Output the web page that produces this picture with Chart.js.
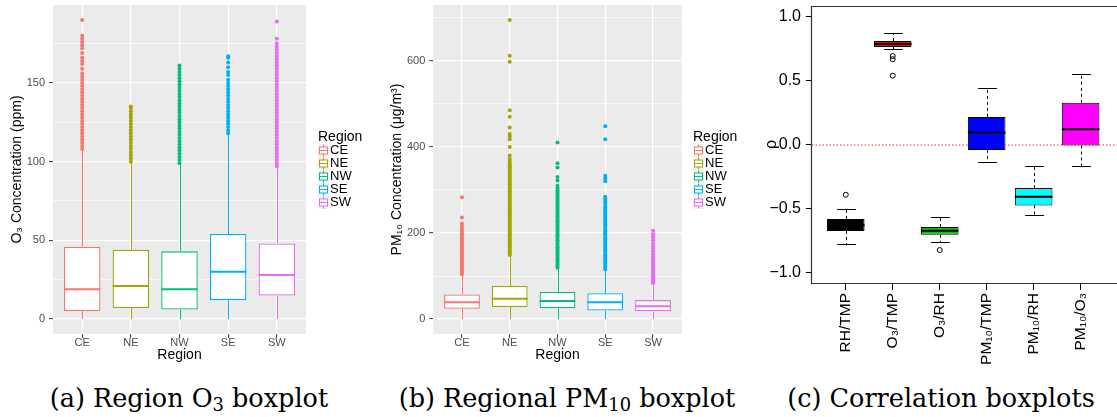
<!DOCTYPE html>
<html lang="en">
<head>
<meta charset="utf-8">
<title>Regional O3 / PM10 boxplots and correlation boxplots</title>
<script src="https://cdn.jsdelivr.net/npm/chart.js@4.4.1/dist/chart.umd.min.js"></script>
<style>
  html, body { margin: 0; padding: 0; background: #fff; }
  body { position: relative; width: 1117px; height: 417px; overflow: hidden; }
  canvas { position: absolute; top: 0; }
  #o3-chart { left: 0; }
  #pm-chart { left: 370px; }
  #cor-chart { left: 740px; }
  .caption {
    position: absolute; top: 383px;
    font-family: "DejaVu Serif", "Liberation Serif", serif;
    font-size: 25.5px; line-height: 30px; color: #000;
    white-space: nowrap; transform: translateX(-50%);
  }
  .caption sub { font-size: 0.7em; vertical-align: -0.25em; line-height: 0; }
</style>
</head>
<body>
<canvas id="o3-chart" width="370" height="365"></canvas>
<canvas id="pm-chart" width="370" height="365"></canvas>
<canvas id="cor-chart" width="377" height="380"></canvas>
<div class="caption" style="left:189px">(a) Region O<sub>3</sub> boxplot</div>
<div class="caption" style="left:567px">(b) Regional PM<sub>10</sub> boxplot</div>
<div class="caption" style="left:941px">(c) Correlation boxplots</div>
<script>
// ---- (a) regional O3 ----
var regions = ['CE', 'NE', 'NW', 'SE', 'SW'];
var o3Low = [0, 0, 0, 0, 0];
var o3Q1 = [5, 7, 6, 12, 15];
var o3Median = [19, 21, 19, 30, 28];
var o3Q3 = [46, 44, 43, 54, 48];
var o3High = [107, 99, 98, 117, 97];
var o3Outliers = [
  [108, 110, 112, 114, 116, 118, 120, 122, 124, 126, 128, 130, 132, 134, 136, 138, 140, 142, 144, 146, 148, 150, 152, 154, 156, 159, 162, 164, 166, 169, 172, 174, 176, 178, 180, 190],
  [100, 102, 104, 106, 108, 110, 112, 114, 116, 118, 120, 122, 124, 126, 128, 130, 132, 134, 135],
  [99, 101, 103, 105, 107, 109, 111, 113, 115, 117, 119, 121, 123, 125, 127, 129, 131, 133, 135, 137, 139, 141, 143, 145, 147, 149, 151, 153, 155, 157, 159, 161],
  [118, 120, 122, 124, 126, 128, 130, 132, 134, 136, 138, 140, 142, 144, 146, 148, 150, 152, 155, 157, 160, 163, 166, 167],
  [97, 99, 101, 103, 105, 107, 109, 111, 113, 115, 117, 119, 121, 123, 125, 127, 129, 131, 133, 135, 137, 139, 141, 143, 145, 147, 149, 151, 153, 155, 157, 159, 161, 163, 165, 167, 169, 171, 173, 175, 178, 189]
];
var o3MajorTicks = [0, 50, 100, 150];
var o3MinorTicks = [25, 75, 125, 175];

// ---- (b) regional PM10 ----
var pmLow = [0, 0, 0, 0, 0];
var pmQ1 = [24, 28, 25, 20, 18];
var pmMedian = [39, 47, 42, 39, 30];
var pmQ3 = [57, 77, 63, 60, 44];
var pmHigh = [103, 148, 118, 115, 82];
var pmOutliers = [
  [104, 108, 112, 116, 120, 124, 128, 132, 136, 140, 144, 148, 152, 156, 160, 164, 168, 172, 176, 180, 184, 188, 192, 196, 200, 205, 210, 216, 222, 236, 283],
  [149, 153, 157, 161, 165, 169, 173, 177, 181, 185, 189, 193, 197, 201, 205, 209, 213, 217, 221, 225, 229, 233, 237, 241, 245, 249, 253, 257, 261, 265, 269, 273, 277, 281, 285, 289, 293, 297, 301, 305, 309, 313, 317, 321, 325, 329, 333, 337, 341, 345, 349, 353, 357, 361, 366, 372, 380, 400, 418, 425, 430, 445, 470, 485, 598, 612, 695],
  [119, 123, 127, 131, 135, 139, 143, 147, 151, 155, 159, 163, 167, 171, 175, 179, 183, 187, 191, 195, 199, 203, 207, 211, 215, 219, 223, 227, 231, 235, 239, 243, 247, 251, 255, 259, 263, 267, 271, 275, 279, 283, 287, 291, 295, 299, 304, 310, 322, 330, 352, 362, 410],
  [116, 120, 124, 128, 132, 136, 140, 144, 148, 152, 156, 160, 164, 168, 172, 176, 180, 184, 188, 192, 196, 200, 204, 208, 212, 216, 220, 224, 228, 232, 236, 240, 244, 248, 252, 256, 260, 265, 270, 275, 280, 284, 320, 327, 333, 418, 448],
  [83, 87, 91, 95, 99, 103, 107, 111, 115, 119, 123, 127, 131, 135, 140, 145, 150, 157, 163, 168, 175, 183, 190, 197, 205]
];
var pmMajorTicks = [0, 200, 400, 600];
var pmMinorTicks = [100, 300, 500, 700];

// ---- (c) correlation boxplots ----
var pairs = ['RH/TMP', 'O\u2083/TMP', 'O\u2083/RH', 'PM\u2081\u2080/TMP', 'PM\u2081\u2080/RH', 'PM\u2081\u2080/O\u2083'];
var corLow = [-0.779, 0.745, -0.761, -0.140, -0.553, -0.171];
var corQ1 = [-0.675, 0.761, -0.704, -0.042, -0.475, -0.008];
var corMedian = [-0.630, 0.784, -0.672, 0.093, -0.408, 0.119];
var corQ3 = [-0.580, 0.807, -0.644, 0.215, -0.340, 0.325];
var corHigh = [-0.504, 0.872, -0.563, 0.444, -0.164, 0.553];
var corOutliers = [[-0.392], [0.690, 0.665, 0.537], [-0.823], [], [], []];
var corTicks = [-1, -0.5, 0, 0.5, 1];
var corTickLabels = ['\u22121.0', '\u22120.5', '0.0', '0.5', '1.0'];

(function () {
  'use strict';

  var SANS = '"Liberation Sans", Arial, Helvetica, sans-serif';
  var regionColors = ['#F8766D', '#A3A500', '#00BF7D', '#00B0F6', '#E76BF3'];
  var pairColors = ['#000000', '#FF0000', '#00CD00', '#0000FF', '#00FFFF', '#FF00FF'];

  // pin an axis to a fixed thickness so the plot panels line up
  function fixSize(size) {
    return function (scale) {
      if (scale.isHorizontal()) scale.height = size; else scale.width = size;
      scale.paddingTop = 0; scale.paddingBottom = 0;
      scale.paddingLeft = 0; scale.paddingRight = 0;
    };
  }

  function setTicks(values) {
    return function (scale) {
      scale.ticks = values.map(function (v) { return { value: v }; });
    };
  }

  // =========================================================================
  // ggplot-style regional boxplots (a) and (b)
  // =========================================================================

  function regionPlugin(s) {
    return {
      id: 'regionBoxes_' + s.id,
      beforeDraw: function (chart) {
        var a = chart.chartArea, ctx = chart.ctx;
        ctx.save();
        ctx.fillStyle = '#EBEBEB';
        ctx.fillRect(a.left, a.top, a.right - a.left, a.bottom - a.top);
        ctx.restore();
      },
      beforeDatasetsDraw: function (chart) {
        var ctx = chart.ctx, y = chart.scales.y;
        var bars = chart.getDatasetMeta(0).data;
        ctx.save();
        ctx.lineWidth = 1;
        bars.forEach(function (bar, i) {
          var cx = Math.round(bar.x) + 0.5;
          ctx.strokeStyle = regionColors[i];
          ctx.beginPath();
          ctx.moveTo(cx, y.getPixelForValue(s.q3[i]));
          ctx.lineTo(cx, y.getPixelForValue(s.high[i]));
          ctx.moveTo(cx, y.getPixelForValue(s.q1[i]));
          ctx.lineTo(cx, y.getPixelForValue(s.low[i]));
          ctx.stroke();
        });
        ctx.restore();
      },
      afterDatasetsDraw: function (chart) {
        var ctx = chart.ctx, y = chart.scales.y;
        var bars = chart.getDatasetMeta(0).data;
        ctx.save();
        ctx.lineWidth = 2;
        bars.forEach(function (bar, i) {
          var py = y.getPixelForValue(s.med[i]);
          ctx.strokeStyle = regionColors[i];
          ctx.beginPath();
          ctx.moveTo(bar.x - bar.width / 2, py);
          ctx.lineTo(bar.x + bar.width / 2, py);
          ctx.stroke();
        });
        ctx.restore();
      },
      afterDraw: function (chart) {
        // legend: "Region" with small boxplot keys
        var ctx = chart.ctx, lx = s.legendX;
        ctx.save();
        ctx.textAlign = 'left';
        ctx.textBaseline = 'middle';
        ctx.fillStyle = '#000';
        ctx.font = '14px ' + SANS;
        ctx.fillText('Region', lx, 137);
        ctx.font = '13px ' + SANS;
        regions.forEach(function (r, i) {
          var cy = Math.round(150 + i * 13) + 0.5;
          var kx = lx + 0.5;
          ctx.fillStyle = '#F2F2F2';
          ctx.fillRect(kx - 0.5, cy - 6.5, 11, 13);
          ctx.strokeStyle = regionColors[i];
          ctx.lineWidth = 1;
          ctx.beginPath();
          ctx.moveTo(kx + 5, cy - 6); ctx.lineTo(kx + 5, cy - 3.5);
          ctx.moveTo(kx + 5, cy + 3.5); ctx.lineTo(kx + 5, cy + 6);
          ctx.stroke();
          ctx.fillStyle = '#FFFFFF';
          ctx.fillRect(kx + 1, cy - 3.5, 8, 7);
          ctx.strokeRect(kx + 1, cy - 3.5, 8, 7);
          ctx.beginPath();
          ctx.moveTo(kx + 1, cy); ctx.lineTo(kx + 9, cy);
          ctx.stroke();
          ctx.fillStyle = '#000';
          ctx.fillText(r, lx + 12, cy);
        });
        ctx.restore();
      }
    };
  }

  function makeRegionChart(s) {
    var ticks = s.major.concat(s.minor).sort(function (a, b) { return a - b; });
    function isMajor(c) { return c.tick && s.major.indexOf(c.tick.value) !== -1; }

    var datasets = [{
      type: 'bar',
      data: regions.map(function (r, i) { return { x: i + 1, y: [s.q1[i], s.q3[i]] }; }),
      backgroundColor: '#FFFFFF',
      borderColor: regionColors,
      borderWidth: 1.3,
      borderSkipped: false,
      barPercentage: 0.75,
      categoryPercentage: 1,
      order: 2
    }];
    regions.forEach(function (r, i) {
      datasets.push({
        type: 'scatter',
        data: s.outliers[i].map(function (v) { return { x: i + 1, y: v }; }),
        pointRadius: 2,
        pointHoverRadius: 2,
        pointBorderWidth: 0,
        pointBackgroundColor: regionColors[i],
        order: 1
      });
    });

    return new Chart(document.getElementById(s.id), {
      type: 'bar',
      data: { datasets: datasets },
      options: {
        responsive: false,
        animation: false,
        devicePixelRatio: 1,
        events: [],
        layout: { padding: { top: 5, right: s.padRight, bottom: 0, left: 0 } },
        plugins: { legend: { display: false }, tooltip: { enabled: false } },
        scales: {
          x: {
            type: 'linear', min: 0.4, max: 5.6, offset: false,
            afterBuildTicks: setTicks(regions.map(function (r, i) { return i + 1; })),
            afterFit: fixSize(31),
            ticks: {
              autoSkip: false, maxRotation: 0, padding: -1, color: '#4D4D4D',
              font: { family: SANS, size: 11, lineHeight: 1 },
              callback: function (v) { return regions[Math.round(v) - 1]; }
            },
            grid: { offset: false, color: '#FFFFFF', lineWidth: 1.2, tickLength: 4, tickWidth: 1, tickColor: '#333333' },
            border: { display: false },
            title: { display: true, text: 'Region', color: '#000', font: { family: SANS, size: 14 }, padding: { top: 0, bottom: 1 } }
          },
          y: {
            type: 'linear', min: s.yMin, max: s.yMax,
            afterBuildTicks: setTicks(ticks),
            afterFit: fixSize(s.axisWidth),
            ticks: {
              autoSkip: false, padding: 4, color: '#4D4D4D',
              font: { family: SANS, size: 11 },
              callback: function (v) { return s.major.indexOf(v) !== -1 ? String(v) : ''; }
            },
            grid: {
              color: '#FFFFFF',
              lineWidth: function (c) { return isMajor(c) ? 1.2 : 0.6; },
              tickLength: 4, tickWidth: 1,
              tickColor: function (c) { return isMajor(c) ? '#333333' : 'rgba(0,0,0,0)'; }
            },
            border: { display: false },
            title: { display: true, text: s.yTitle, color: '#000', font: { family: SANS, size: 14 }, padding: { top: s.titlePad, bottom: 0 } }
          }
        }
      },
      plugins: [regionPlugin(s)]
    });
  }

  // =========================================================================
  // base-R style correlation boxplots (c)
  // =========================================================================

  var corPlugin = {
    id: 'corBoxes',
    beforeDatasetsDraw: function (chart) {
      var ctx = chart.ctx, a = chart.chartArea, y = chart.scales.y;
      var bars = chart.getDatasetMeta(0).data;
      ctx.save();
      // dotted reference line at rho = 0
      var y0 = Math.round(y.getPixelForValue(0));
      ctx.strokeStyle = '#FF3030';
      ctx.lineWidth = 1.2;
      ctx.setLineDash([1.5, 2]);
      ctx.beginPath();
      ctx.moveTo(Math.round(a.left) + 1, y0); ctx.lineTo(chart.width, y0);
      ctx.stroke();
      // whiskers + staples
      ctx.strokeStyle = '#000';
      ctx.lineWidth = 1;
      bars.forEach(function (bar, i) {
        var cx = Math.round(bar.x) + 0.5;
        var half = bar.width / 4;
        var yHi = Math.round(y.getPixelForValue(corHigh[i])) + 0.5;
        var yLo = Math.round(y.getPixelForValue(corLow[i])) + 0.5;
        ctx.setLineDash([3, 3]);
        ctx.beginPath();
        ctx.moveTo(cx, y.getPixelForValue(corQ3[i])); ctx.lineTo(cx, yHi);
        ctx.moveTo(cx, y.getPixelForValue(corQ1[i])); ctx.lineTo(cx, yLo);
        ctx.stroke();
        ctx.setLineDash([]);
        ctx.beginPath();
        ctx.moveTo(cx - half, yHi); ctx.lineTo(cx + half, yHi);
        ctx.moveTo(cx - half, yLo); ctx.lineTo(cx + half, yLo);
        ctx.stroke();
      });
      ctx.restore();
    },
    afterDatasetsDraw: function (chart) {
      var ctx = chart.ctx, a = chart.chartArea, y = chart.scales.y;
      var bars = chart.getDatasetMeta(0).data;
      ctx.save();
      ctx.strokeStyle = '#000';
      ctx.lineWidth = 2;
      bars.forEach(function (bar, i) {
        var py = y.getPixelForValue(corMedian[i]);
        ctx.beginPath();
        ctx.moveTo(bar.x - bar.width / 2, py); ctx.lineTo(bar.x + bar.width / 2, py);
        ctx.stroke();
      });
      // plot frame (right side falls just outside the figure)
      ctx.strokeStyle = '#333';
      ctx.lineWidth = 1.2;
      var l = Math.round(a.left) + 0.5, t = Math.round(a.top) + 0.5, b = Math.round(a.bottom) + 0.5;
      ctx.beginPath();
      ctx.moveTo(chart.width, t); ctx.lineTo(l, t); ctx.lineTo(l, b); ctx.lineTo(chart.width, b);
      ctx.stroke();
      ctx.restore();
    }
  };

  function makeCorrelationChart() {
    var outlierPoints = [];
    corOutliers.forEach(function (list, i) {
      list.forEach(function (v) { outlierPoints.push({ x: i + 1, y: v }); });
    });

    return new Chart(document.getElementById('cor-chart'), {
      type: 'bar',
      data: {
        datasets: [{
          type: 'bar',
          data: pairs.map(function (p, i) { return { x: i + 1, y: [corQ1[i], corQ3[i]] }; }),
          backgroundColor: pairColors,
          borderColor: '#000',
          borderWidth: 1,
          borderSkipped: false,
          barPercentage: 0.8,
          categoryPercentage: 1,
          order: 2
        }, {
          type: 'scatter',
          data: outlierPoints,
          pointRadius: 2.5,
          pointHoverRadius: 2.5,
          pointBorderWidth: 1,
          pointBorderColor: '#000',
          pointBackgroundColor: 'rgba(0,0,0,0)',
          order: 1
        }]
      },
      options: {
        responsive: false,
        animation: false,
        devicePixelRatio: 1,
        events: [],
        layout: { padding: { top: 6, right: 0, bottom: 0, left: 0 } },
        plugins: { legend: { display: false }, tooltip: { enabled: false } },
        scales: {
          x: {
            type: 'linear', min: 0.26, max: 6.70, offset: false,
            afterBuildTicks: setTicks(pairs.map(function (p, i) { return i + 1; })),
            afterFit: fixSize(97),
            ticks: {
              autoSkip: false, minRotation: 90, maxRotation: 90, padding: 3, color: '#000',
              font: { family: SANS, size: 15.5 },
              callback: function (v) { return pairs[Math.round(v) - 1]; }
            },
            grid: { offset: false, drawOnChartArea: false, tickLength: 7, tickWidth: 1, tickColor: '#000' },
            border: { display: false }
          },
          y: {
            type: 'linear', min: -1.08, max: 1.08,
            afterBuildTicks: setTicks(corTicks),
            afterFit: fixSize(71),
            ticks: {
              autoSkip: false, padding: 5, color: '#000',
              font: { family: SANS, size: 16 },
              callback: function (v) { return corTickLabels[corTicks.indexOf(v)]; }
            },
            grid: { drawOnChartArea: false, tickLength: 5, tickWidth: 1, tickColor: '#000' },
            border: { display: false },
            title: { display: true, text: '\u03C1', color: '#000', font: { family: SANS, size: 16 }, padding: { top: 22, bottom: 0 } }
          }
        }
      },
      plugins: [corPlugin]
    });
  }

  makeRegionChart({
    id: 'o3-chart', low: o3Low, q1: o3Q1, med: o3Median, q3: o3Q3, high: o3High,
    outliers: o3Outliers, major: o3MajorTicks, minor: o3MinorTicks,
    yMin: -9.5, yMax: 199.5, yTitle: 'O\u2083 Concentration (ppm)',
    axisWidth: 53, padRight: 64, titlePad: 8.6, legendX: 318
  });
  makeRegionChart({
    id: 'pm-chart', low: pmLow, q1: pmQ1, med: pmMedian, q3: pmQ3, high: pmHigh,
    outliers: pmOutliers, major: pmMajorTicks, minor: pmMinorTicks,
    yMin: -34.75, yMax: 729.75, yTitle: 'PM\u2081\u2080 Concentration (\u03BCg/m\u00B3)',
    axisWidth: 63.3, padRight: 58.3, titlePad: 18.3, legendX: 323
  });
  makeCorrelationChart();
})();
</script>
</body>
</html>
